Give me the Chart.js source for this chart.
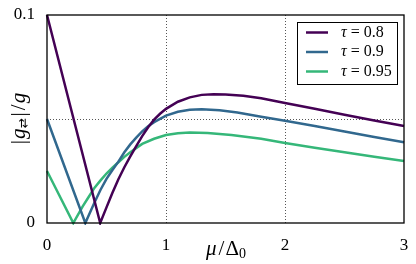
<!DOCTYPE html>
<html>
<head>
<meta charset="utf-8">
<script src="https://cdn.jsdelivr.net/npm/chart.js@4/dist/chart.umd.min.js"></script>
<style>
  html, body { margin: 0; padding: 0; background: #fff; }
  canvas { display: block; }
</style>
</head>
<body>
<canvas id="couplingChart" width="416" height="264"></canvas>
<script>
// values: mu / Delta_0 vs |g| / g
const tau08Mu = [0, 0.447, 0.5, 0.55, 0.6, 0.65, 0.7, 0.75, 0.8, 0.85, 0.9, 0.95, 1.0, 1.1, 1.2, 1.3, 1.4, 1.5, 1.65, 1.8, 2.0, 2.25, 2.5, 2.75, 3.0];
const tau08G  = [0.1, 0, 0.0075, 0.0145, 0.021, 0.0268, 0.032, 0.037, 0.0418, 0.046, 0.0497, 0.0525, 0.0549, 0.0583, 0.0604, 0.0616, 0.0619, 0.0618, 0.0612, 0.06, 0.0577, 0.0549, 0.052, 0.0493, 0.0466];

const tau09Mu = [0, 0.322, 0.4, 0.45, 0.5, 0.55, 0.6, 0.65, 0.7, 0.75, 0.8, 0.85, 0.9, 1.0, 1.1, 1.2, 1.3, 1.45, 1.6, 1.8, 2.0, 2.25, 2.5, 2.75, 3.0];
const tau09G  = [0.05, 0, 0.01, 0.016, 0.0212, 0.0255, 0.0295, 0.034, 0.0378, 0.041, 0.044, 0.0465, 0.0485, 0.0516, 0.0535, 0.0544, 0.0547, 0.0542, 0.0531, 0.0511, 0.0492, 0.0466, 0.044, 0.0413, 0.0388];

const tau095Mu = [0, 0.221, 0.3, 0.35, 0.4, 0.45, 0.5, 0.55, 0.6, 0.65, 0.7, 0.8, 0.9, 1.0, 1.1, 1.2, 1.35, 1.55, 1.8, 2.0, 2.25, 2.5, 2.75, 3.0];
const tau095G  = [0.025, 0, 0.008, 0.0125, 0.017, 0.0205, 0.0238, 0.0266, 0.0292, 0.0318, 0.034, 0.038, 0.0405, 0.0423, 0.0432, 0.0435, 0.0433, 0.0423, 0.0405, 0.0385, 0.0362, 0.034, 0.0318, 0.0298];

const seriesLabels = ["0.8", "0.9", "0.95"];
const seriesColors = ["#440154", "#31688e", "#35b779"];
const xTicks = [0, 1, 2, 3];
const yTicks = [0, 0.1];
const gridX = [1, 2];
const gridY = [0.05];

const SERIF = '"Liberation Serif", "DejaVu Serif", serif';

function toPoints(xs, ys) {
  return xs.map((x, i) => ({ x: x, y: ys[i] }));
}

// draws a row of text pieces (different fonts / offsets) centred on cx
function drawRuns(ctx, runs, cx, cy) {
  let total = 0;
  runs.forEach(r => { ctx.font = r.font; r.w = ctx.measureText(r.text).width + (r.gap || 0); total += r.w; });
  let x = cx - total / 2;
  ctx.textBaseline = "middle";
  ctx.textAlign = "left";
  runs.forEach(r => {
    ctx.font = r.font;
    ctx.fillText(r.text, x + (r.gap || 0) / 2, cy + (r.dy || 0));
    x += r.w;
  });
}

const decorPlugin = {
  id: "decor",
  beforeDatasetsDraw(chart) {
    const ctx = chart.ctx;
    const area = chart.chartArea;
    const xs = chart.scales.x, ys = chart.scales.y;
    ctx.save();
    ctx.strokeStyle = "#555";
    ctx.lineWidth = 1;
    ctx.setLineDash([1, 2]);
    gridX.forEach(v => {
      const px = Math.round(xs.getPixelForValue(v)) + 0.5;
      ctx.beginPath(); ctx.moveTo(px, area.top); ctx.lineTo(px, area.bottom); ctx.stroke();
    });
    gridY.forEach(v => {
      const py = Math.round(ys.getPixelForValue(v)) + 0.5;
      ctx.beginPath(); ctx.moveTo(area.left, py); ctx.lineTo(area.right, py); ctx.stroke();
    });
    ctx.restore();
  },
  afterDraw(chart) {
    const ctx = chart.ctx;
    const area = chart.chartArea;
    ctx.save();
    // axes frame
    ctx.strokeStyle = "#000";
    ctx.lineWidth = 1.3;
    ctx.strokeRect(area.left, area.top, area.right - area.left, area.bottom - area.top);

    ctx.fillStyle = "#000";
    // x title  mu / Delta_0
    drawRuns(ctx, [
      { text: "μ", font: "italic 21px " + SERIF, gap: 2 },
      { text: "/", font: "21px " + SERIF, gap: 2 },
      { text: "Δ", font: "21px " + SERIF },
      { text: "0", font: "14px " + SERIF, dy: 5 }
    ], (area.left + area.right) / 2, 249);

    // y title |g⇄|/g, rotated
    ctx.save();
    ctx.translate(19, (area.top + area.bottom) / 2);
    ctx.rotate(-Math.PI / 2);
    drawRuns(ctx, [
      { text: "|", font: "21px " + SERIF, gap: 2 },
      { text: "g", font: "italic 21px " + SERIF },
      { text: "⇄", font: "12px DejaVu Sans", dy: 5, gap: 1 },
      { text: "|", font: "21px " + SERIF, gap: 2 },
      { text: "/", font: "21px " + SERIF, gap: 2 },
      { text: "g", font: "italic 21px " + SERIF }
    ], 0, 0);
    ctx.restore();

    // legend box
    const bx = 297.5, by = 22.5, bw = 100, bh = 62;
    ctx.fillStyle = "#fff";
    ctx.fillRect(bx, by, bw, bh);
    ctx.strokeStyle = "#000";
    ctx.lineWidth = 1;
    ctx.strokeRect(bx, by, bw, bh);
    chart.data.datasets.forEach((ds, i) => {
      const y = 32.5 + i * 19.5;
      ctx.strokeStyle = ds.borderColor;
      ctx.lineWidth = 2.5;
      ctx.beginPath(); ctx.moveTo(306, y); ctx.lineTo(328, y); ctx.stroke();
      ctx.fillStyle = "#000";
      ctx.font = "italic 16px " + SERIF;
      ctx.textBaseline = "middle";
      ctx.textAlign = "left";
      ctx.fillText("τ", 341, y);
      const w = ctx.measureText("τ").width;
      ctx.font = "16px " + SERIF;
      ctx.fillText(" = " + seriesLabels[i], 341 + w, y);
    });
    ctx.restore();
  }
};

const chartCanvas = document.getElementById("couplingChart");
new Chart(chartCanvas, {
  type: "line",
  data: {
    datasets: [
      { label: "τ = " + seriesLabels[0], data: toPoints(tau08Mu, tau08G), borderColor: seriesColors[0] },
      { label: "τ = " + seriesLabels[1], data: toPoints(tau09Mu, tau09G), borderColor: seriesColors[1] },
      { label: "τ = " + seriesLabels[2], data: toPoints(tau095Mu, tau095G), borderColor: seriesColors[2] }
    ].map(ds => Object.assign(ds, { borderWidth: 2.5, pointRadius: 0, tension: 0, fill: false, clip: 2 }))
  },
  options: {
    responsive: false,
    animation: false,
    layout: { padding: { top: 15, right: 12, left: 0, bottom: 0 } },
    plugins: { legend: { display: false }, tooltip: { enabled: false } },
    scales: {
      x: {
        type: "linear",
        min: 0,
        max: 3,
        afterBuildTicks: s => { s.ticks = xTicks.map(v => ({ value: v })); },
        afterFit: s => { s.height = 41; },
        grid: { display: false },
        border: { display: false },
        ticks: { color: "#000", padding: 4, font: { family: SERIF, size: 17 }, maxRotation: 0, callback: v => String(v) }
      },
      y: {
        type: "linear",
        min: 0,
        max: 0.1,
        afterBuildTicks: s => { s.ticks = yTicks.map(v => ({ value: v })); },
        afterFit: s => { s.width = 47; },
        grid: { display: false },
        border: { display: false },
        ticks: { color: "#000", padding: 4, font: { family: SERIF, size: 17 }, callback: v => (v === 0 ? "0" : String(v)) }
      }
    }
  },
  plugins: [decorPlugin]
});
</script>
</body>
</html>
